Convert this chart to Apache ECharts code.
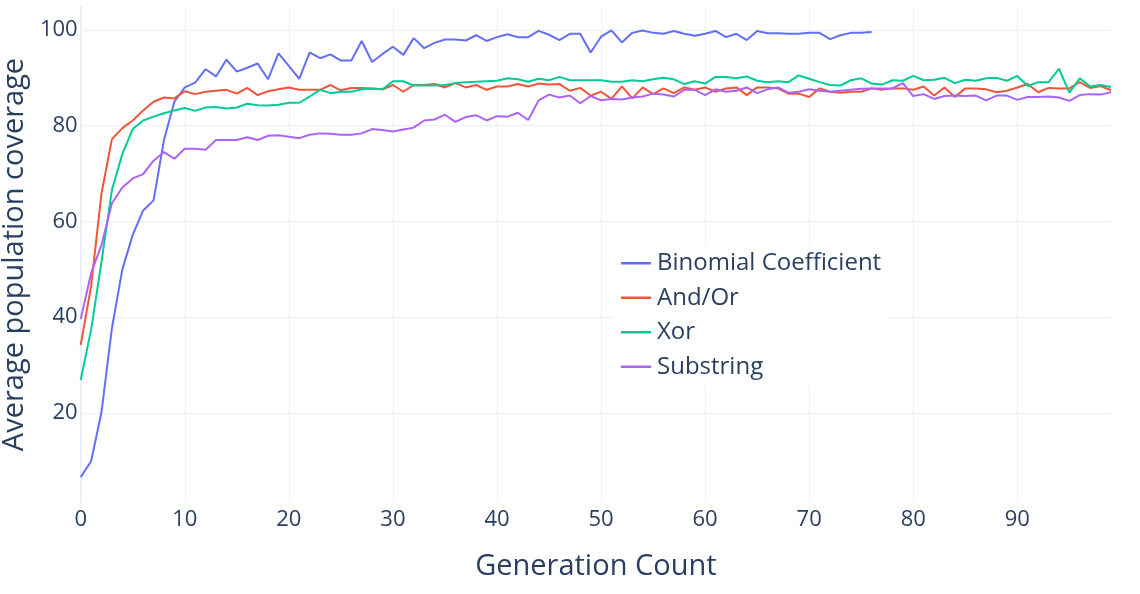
<!DOCTYPE html>
<html>
<head>
<meta charset="utf-8">
<script src="https://cdn.jsdelivr.net/npm/echarts@6/dist/echarts.min.js"></script>
<style>
  html, body { margin: 0; padding: 0; background: #fff; }
  #chart { width: 1140px; height: 594px; }
</style>
</head>
<body>
<div id="chart"></div>
<script>
// generation index 0..99 (category labels)
const generations = Array.from({ length: 100 }, (_, i) => String(i));

const binomial = [
  6.6, 9.9, 20.2, 37.7, 50.0, 57.2, 62.3, 64.4, 77.0, 85.0,
  88.0, 89.0, 91.8, 90.3, 93.8, 91.3, 92.1, 93.0, 89.7, 95.1,
  92.5, 89.8, 95.3, 94.1, 94.9, 93.6, 93.6, 97.7, 93.3, 95.0,
  96.5, 94.8, 98.3, 96.2, 97.3, 98.0, 98.0, 97.8, 98.9, 97.7,
  98.5, 99.1, 98.5, 98.5, 99.8, 99.0, 97.9, 99.2, 99.2, 95.3,
  98.6, 99.9, 97.4, 99.4, 99.9, 99.4, 99.2, 99.8, 99.2, 98.8,
  99.2, 99.8, 98.5, 99.2, 97.9, 99.8, 99.3, 99.3, 99.2, 99.2,
  99.4, 99.4, 98.1, 98.9, 99.4, 99.4, 99.6
];

const andOr = [
  34.2, 46.5, 65.9, 77.2, 79.5, 81.1, 83.2, 85.0, 85.9, 85.7,
  87.2, 86.6, 87.1, 87.3, 87.5, 86.7, 87.9, 86.4, 87.2, 87.6,
  88.0, 87.5, 87.5, 87.5, 88.5, 87.4, 87.9, 87.9, 87.8, 87.6,
  88.5, 87.1, 88.5, 88.5, 88.7, 88.0, 88.9, 88.0, 88.5, 87.5,
  88.2, 88.2, 88.7, 88.2, 88.8, 88.6, 88.7, 87.3, 87.9, 86.3,
  87.1, 85.6, 88.2, 85.7, 88.0, 86.6, 87.8, 86.8, 88.0, 87.5,
  88.0, 87.1, 87.8, 88.0, 86.4, 88.0, 88.0, 87.8, 86.7, 86.7,
  86.0, 87.8, 87.1, 86.9, 87.1, 87.1, 87.8, 87.5, 87.8, 87.8,
  87.5, 88.2, 86.3, 88.0, 86.0, 87.8, 87.8, 87.6, 87.0, 87.3,
  88.0, 88.7, 87.0, 87.9, 87.8, 87.8, 89.1, 87.9, 88.3, 87.4
];

const xor = [
  26.9, 37.4, 51.6, 66.6, 74.1, 79.3, 81.1, 81.9, 82.6, 83.2,
  83.7, 83.1, 83.8, 83.9, 83.6, 83.8, 84.6, 84.3, 84.2, 84.4,
  84.8, 84.8, 86.1, 87.5, 86.8, 87.1, 87.1, 87.6, 87.7, 87.6,
  89.3, 89.3, 88.4, 88.4, 88.4, 88.5, 88.9, 89.1, 89.2, 89.3,
  89.4, 89.9, 89.7, 89.2, 89.8, 89.5, 90.2, 89.5, 89.5, 89.5,
  89.5, 89.2, 89.2, 89.5, 89.3, 89.7, 90.0, 89.7, 88.7, 89.3,
  88.8, 90.2, 90.2, 89.9, 90.3, 89.4, 89.1, 89.3, 89.1, 90.5,
  89.8, 89.1, 88.5, 88.4, 89.5, 89.9, 88.8, 88.6, 89.5, 89.4,
  90.4, 89.5, 89.6, 90.0, 88.9, 89.6, 89.4, 89.9, 90.0, 89.4,
  90.4, 88.3, 89.1, 89.1, 91.9, 86.9, 89.9, 88.2, 88.5, 88.1
];

const substring = [
  39.6, 49.2, 55.1, 63.8, 67.1, 69.0, 69.9, 72.7, 74.5, 73.1,
  75.2, 75.2, 75.0, 77.0, 77.0, 77.0, 77.6, 77.0, 77.9, 78.0,
  77.7, 77.4, 78.1, 78.4, 78.3, 78.1, 78.1, 78.4, 79.3, 79.1,
  78.8, 79.2, 79.6, 81.1, 81.3, 82.3, 80.8, 81.8, 82.2, 81.1,
  82.0, 81.9, 82.7, 81.2, 85.3, 86.5, 85.9, 86.3, 84.7, 86.2,
  85.3, 85.6, 85.5, 85.9, 86.1, 86.7, 86.5, 86.1, 87.5, 87.5,
  86.4, 87.6, 87.1, 87.3, 88.0, 86.8, 87.6, 88.0, 86.9, 87.1,
  87.6, 87.3, 87.1, 87.3, 87.5, 87.7, 87.8, 87.8, 87.8, 88.9,
  86.2, 86.6, 85.6, 86.2, 86.3, 86.2, 86.3, 85.3, 86.3, 86.3,
  85.4, 86.0, 86.0, 86.1, 85.9, 85.2, 86.4, 86.6, 86.5, 87.0
];

const yTicks = [20, 40, 60, 80, 100];

const textColor = '#2a3f5f';
const gridColor = '#ebf0f8';
const fontFamily = '"Open Sans", "Noto Sans", sans-serif';

const chart = echarts.init(document.getElementById('chart'));

function lineSeries(name, data, color) {
  return {
    name: name,
    type: 'line',
    data: data,
    showSymbol: false,
    symbol: 'none',
    smooth: false,
    lineStyle: { color: color, width: 2 },
    itemStyle: { color: color },
    emphasis: { disabled: true },
    animation: false,
  };
}

const option = {
  backgroundColor: '#ffffff',
  textStyle: { fontFamily: fontFamily, color: textColor },
  grid: {
    left: 80.7,
    right: 29,
    top: 7,
    bottom: 92,
    containLabel: false,
    outerBoundsMode: 'none',
  },
  legend: {
    orient: 'vertical',
    left: 613,
    top: 245,
    backgroundColor: '#ffffff',
    padding: [6, 8, 6, 8],
    itemWidth: 30,
    itemHeight: 2.5,
    itemGap: 10,
    icon: 'rect',
    textStyle: {
      fontFamily: fontFamily,
      fontSize: 24,
      color: textColor,
      lineHeight: 24.5,
      padding: [0, 0, 0, 1],
    },
    data: ['Binomial Coefficient', 'And/Or', 'Xor', 'Substring'],
  },
  xAxis: {
    type: 'category',
    boundaryGap: false,
    data: generations,
    name: 'Generation Count',
    nameLocation: 'middle',
    nameGap: 50,
    nameTextStyle: { fontSize: 29, color: textColor, fontFamily: fontFamily },
    axisLine: { show: false },
    axisTick: { show: false },
    axisLabel: {
      interval: 9,
      fontSize: 22,
      color: textColor,
      margin: 7,
      fontFamily: fontFamily,
    },
    splitLine: {
      show: true,
      interval: 9,
      lineStyle: { color: gridColor, width: 1 },
    },
  },
  yAxis: {
    type: 'value',
    min: 1.4,
    max: 104.8,
    name: 'Average population coverage',
    nameLocation: 'middle',
    nameGap: 33,
    nameTextStyle: { fontSize: 29, color: textColor, fontFamily: fontFamily },
    axisLine: { show: true, lineStyle: { color: gridColor, width: 2 } },
    axisTick: { show: false, customValues: yTicks },
    axisLabel: {
      customValues: yTicks,
      fontSize: 22,
      color: textColor,
      margin: 3,
      fontFamily: fontFamily,
    },
    splitLine: {
      show: true,
      lineStyle: { color: gridColor, width: 1 },
    },
  },
  series: [
    lineSeries('Binomial Coefficient', binomial, '#636efa'),
    lineSeries('And/Or', andOr, '#EF553B'),
    lineSeries('Xor', xor, '#00cc96'),
    lineSeries('Substring', substring, '#ab63fa'),
  ],
};

chart.setOption(option);
window.addEventListener('resize', () => chart.resize());
</script>
</body>
</html>
